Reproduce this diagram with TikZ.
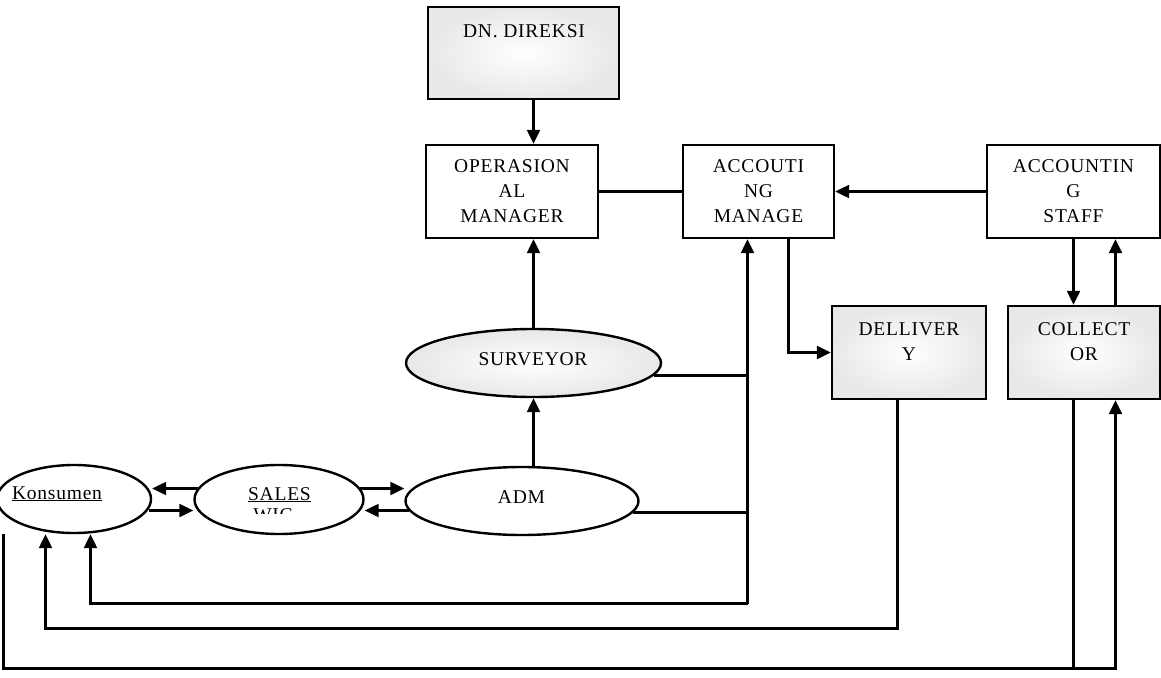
\documentclass[tikz,border=0pt]{standalone}
\usepackage{fontspec}
\setmainfont[LetterSpace=4]{Liberation Serif}
\usetikzlibrary{arrows.meta,shapes.geometric}
\begin{document}
\begin{tikzpicture}[x=1pt,y=-1pt,line width=2.3pt,
  every node/.style={font=\fontsize{19.5}{25}\selectfont, inner sep=0pt, text=black},
  rbox/.style={draw=black, rectangle, line width=2.4pt},
  oval/.style={draw=black, ellipse, line width=2.4pt},
  shaded/.style={shade, inner color=white, outer color=gray!18},
  arr/.style={-{Triangle[length=14pt,width=13pt]}}]
\useasboundingbox (0,0) rectangle (1161,677);

% boxes
\node[rbox,shaded,minimum width=191pt,minimum height=92pt] (DN) at (523.5,53) {};
\node (DNt) at (524,31) {DN. DIREKSI};
\node[rbox,minimum width=172pt,minimum height=93pt,align=center] (OP) at (512,191.5) {OPERASION\\AL\\MANAGER};
\node[rbox,minimum width=151pt,minimum height=93pt,align=center] (AC) at (758.5,191.5) {ACCOUTI\\NG\\MANAGE};
\node[rbox,minimum width=173pt,minimum height=93pt,align=center] (ST) at (1073.5,191.5) {ACCOUNTIN\\G\\STAFF};
\node[rbox,shaded,minimum width=154pt,minimum height=93pt] (DL) at (909,352.5) {};
\node[align=center] (DLt) at (909,342) {DELLIVER\\Y};
\node[rbox,shaded,minimum width=152pt,minimum height=93pt] (CO) at (1084,352.5) {};
\node[align=center] (COt) at (1084,342) {COLLECT\\OR};

% ellipses
\node[oval,minimum width=154pt,minimum height=68pt] (KO) at (74,499) {};
\node[anchor=base] (KOt) at (57,499) {\underline{Konsumen}};
\node[oval,minimum width=169pt,minimum height=69pt] (SA) at (279,499.5) {};
\node[anchor=base] (SAt) at (279.5,500) {\underline{SALES}};
\begin{scope}
  \clip (240,506) rectangle (320,513.5);
  \node[anchor=base] (SAt2) at (273,521) {WIC};
\end{scope}
\node[oval,minimum width=233pt,minimum height=68pt] (AD) at (522,501) {};
\node[anchor=base] (ADt) at (521.5,503) {ADM};
\node[oval,shaded,minimum width=255pt,minimum height=68pt] (SU) at (533.5,363) {};
\node[anchor=base] (SUt) at (533,365) {SURVEYOR};

% connectors
\draw[arr] (DN.south -| SU.north) -- (OP.north -| SU.north);
\draw[arr] (SU.north) -- (OP.south -| SU.north);
\draw[arr] (AD.north -| SU.north) -- (SU.south);
\draw (OP.east) -- (AC.west);
\draw[arr] (ST.west) -- (AC.east);
\coordinate (acout) at ([xshift=30pt]AC.south);
\draw[arr] (acout) |- (DL.west);
\coordinate (acin) at ([xshift=-11pt]AC.south);
\coordinate (lvl1) at (0,603.5);
\draw[arr] (acin |- lvl1) -- (acin);
\coordinate (sur) at (0,375.5);
\coordinate (adr) at (0,512.5);
\draw (SU.-6 |- sur) -- (acin |- sur);
\draw (AD.-6 |- adr) -- (acin |- adr);
\coordinate (kin1) at ([xshift=16.5pt]KO.south);
\draw[arr] (acin |- lvl1) -| (kin1);
\coordinate (lvl2) at (0,628.5);
\coordinate (dlo) at ([xshift=-11.5pt]DL.south);
\coordinate (kin2) at ([xshift=-28.5pt]KO.south);
\draw[arr] (dlo) |- (kin2 |- lvl2) -- (kin2);
\coordinate (lvl3) at (0,668.5);
\coordinate (kout) at ([xshift=-70.5pt]KO.south);
\coordinate (cin) at ([xshift=31.5pt]CO.south);
\coordinate (cout) at ([xshift=-10.5pt]CO.south);
\draw[arr] (kout) |- (cin |- lvl3) -- (cin);
\draw (cout) -- (cout |- lvl3);
\draw[arr] (ST.south -| cout) -- (CO.north -| cout);
\draw[arr] (CO.north -| cin) -- (ST.south -| cin);
\coordinate (up) at (0,488.5);
\coordinate (dn) at (0,510.5);
\draw[arr] (SA.172 |- up) -- (KO.east |- up);
\draw[arr] (KO.-8 |- dn) -- (SA.west |- dn);
\draw[arr] (SA.8 |- up) -- (AD.west |- up);
\draw[arr] (AD.185 |- dn) -- (SA.east |- dn);
\end{tikzpicture}
\end{document}
